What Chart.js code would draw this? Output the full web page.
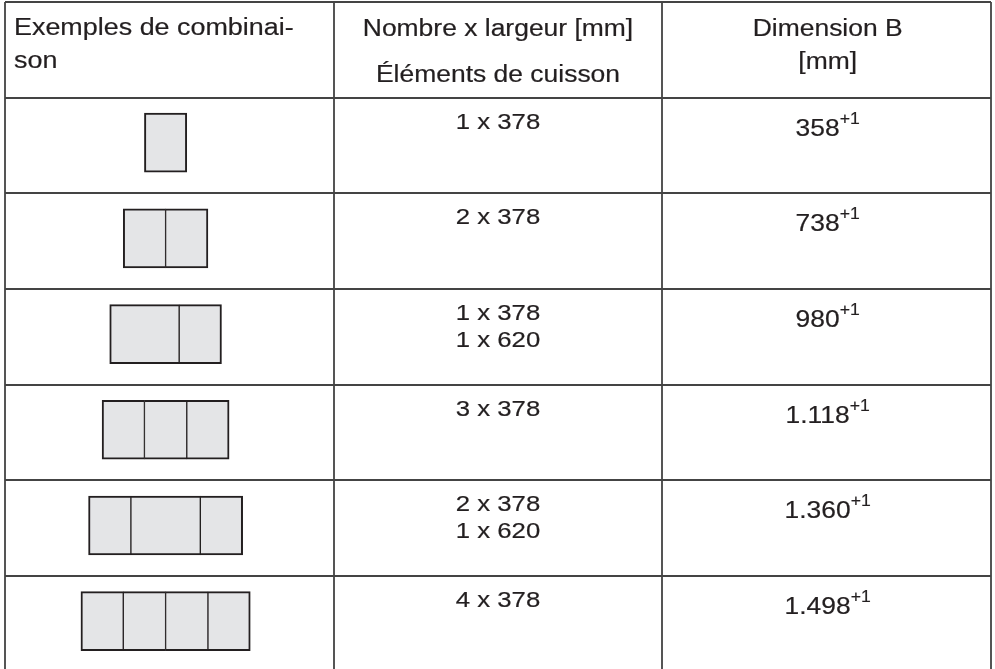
<!DOCTYPE html>
<html>
<head>
<meta charset="utf-8">
<script src="https://cdn.jsdelivr.net/npm/chart.js@4/dist/chart.umd.min.js"></script>
<style>
  html, body { margin: 0; padding: 0; background: #ffffff; }
  #wrap { width: 995px; height: 669px; }
</style>
</head>
<body>
<div id="wrap"><canvas id="c" width="995" height="669"></canvas></div>
<script>
// ---- data ----
const headerCol1 = ["Exemples de combinai-", "son"];
const headerCol2 = ["Nombre x largeur [mm]", "Éléments de cuisson"];
const headerCol3 = ["Dimension B", "[mm]"];
// element widths (mm) of each combination, left to right
const combinations = [
  [378],
  [378, 378],
  [620, 378],
  [378, 378, 378],
  [378, 620, 378],
  [378, 378, 378, 378]
];
const countByWidth = [
  ["1 x 378"],
  ["2 x 378"],
  ["1 x 378", "1 x 620"],
  ["3 x 378"],
  ["2 x 378", "1 x 620"],
  ["4 x 378"]
];
const dimensionB = ["358", "738", "980", "1.118", "1.360", "1.498"];
const tolerance = "+1";

// ---- build floating-bar datasets (one per element position) ----
const maxSeg = Math.max(...combinations.map(c => c.length));
const datasets = [];
for (let s = 0; s < maxSeg; s++) {
  const pts = [];
  combinations.forEach((combo, i) => {
    if (s >= combo.length) return;
    const total = combo.reduce((a, b) => a + b, 0);
    let start = -total / 2;
    for (let k = 0; k < s; k++) start += combo[k];
    pts.push({ x: [start, start + combo[s]], y: i + 1.47, seg: s, n: combo.length });
  });
  datasets.push({
    data: pts,
    xAxisID: 'mm',
    yAxisID: 'y',
    grouped: false,
    barThickness: 59,
    backgroundColor: '#e4e5e7',
    borderColor: '#231f20',
    borderSkipped: false,
    borderWidth: (ctx) => {
      const r = ctx.raw || {};
      return {
        top: 2, bottom: 2,
        left: r.seg === 0 ? 2 : 1,
        right: r.seg === r.n - 1 ? 2 : 1
      };
    }
  });
}

const FONT = '"Liberation Sans", Arial, Helvetica, sans-serif';
const TEXT_COLOR = '#231f20';

function stretchedWidth(ctx, str, size, stretch) {
  ctx.font = size + 'px ' + FONT;
  return ctx.measureText(str).width * stretch;
}
function drawText(ctx, str, x, y, size, stretch) {
  ctx.save();
  ctx.font = size + 'px ' + FONT;
  ctx.fillStyle = TEXT_COLOR;
  ctx.strokeStyle = TEXT_COLOR;
  ctx.lineWidth = 0.2;
  ctx.textBaseline = 'alphabetic';
  ctx.textAlign = 'left';
  ctx.translate(x, y);
  ctx.scale(stretch, 1);
  ctx.fillText(str, 0, 0);
  ctx.strokeText(str, 0, 0);
  ctx.restore();
}
function drawCentered(ctx, str, cx, y, size, stretch) {
  const w = stretchedWidth(ctx, str, size, stretch);
  drawText(ctx, str, cx - w / 2, y, size, stretch);
}

const tablePlugin = {
  id: 'tableText',
  afterDraw(chart) {
    const ctx = chart.ctx;
    const xs = chart.scales.x;
    const ys = chart.scales.y;
    const colLeft = (c) => xs.getPixelForValue(c);
    const colCenter = (c) => xs.getPixelForValue(c + 0.5);
    const rowTop = (r) => ys.getPixelForValue(r);
    const HS = 23, ST = 1.15;

    // header
    const h0 = rowTop(0);
    drawText(ctx, headerCol1[0], colLeft(0) + 9, h0 + 33, HS, 1.17);
    drawText(ctx, headerCol1[1], colLeft(0) + 9, h0 + 66, HS, 1.17);
    drawCentered(ctx, headerCol2[0], colCenter(1), h0 + 34, HS, ST);
    drawCentered(ctx, headerCol2[1], colCenter(1), h0 + 80, HS, ST);
    drawCentered(ctx, headerCol3[0], colCenter(2) + 1, h0 + 34, HS, ST);
    drawCentered(ctx, headerCol3[1], colCenter(2) + 1, h0 + 67, HS, ST);

    // body rows
    countByWidth.forEach((lines, i) => {
      const top = rowTop(i + 1);
      lines.forEach((ln, j) => {
        drawCentered(ctx, ln, colCenter(1), top + 31 + j * 27, 22, 1.17);
      });
      const main = dimensionB[i];
      const wm = stretchedWidth(ctx, main, 24, 1.1);
      const ws = stretchedWidth(ctx, tolerance, 16, 1.1);
      const start = colCenter(2) + 1 - (wm + ws) / 2;
      drawText(ctx, main, start, top + 38, 24, 1.1);
      drawText(ctx, tolerance, start + wm, top + 26, 16, 1.1);
    });
  }
};

new Chart(document.getElementById('c'), {
  type: 'bar',
  data: { datasets },
  options: {
    indexAxis: 'y',
    responsive: false,
    animation: false,
    events: [],
    layout: { padding: { left: 5, right: 4, top: 2, bottom: 0 } },
    plugins: { legend: { display: false }, tooltip: { enabled: false }, title: { display: false } },
    scales: {
      x: {
        type: 'linear', position: 'bottom', min: 0, max: 3, offset: false,
        ticks: { display: false, stepSize: 1 },
        grid: { display: true, offset: false, color: '#555555', lineWidth: 2, drawTicks: false },
        border: { display: false }
      },
      mm: {
        type: 'linear', position: 'bottom', display: false, offset: false, min: -1434, max: 7370
      },
      y: {
        type: 'linear', position: 'left', reverse: true, offset: false, min: 0, max: 6.97,
        ticks: { display: false, stepSize: 1, includeBounds: false },
        grid: { display: true, offset: false, color: '#444444', lineWidth: 2, drawTicks: false },
        border: { display: false }
      }
    }
  },
  plugins: [tablePlugin]
});
</script>
</body>
</html>
